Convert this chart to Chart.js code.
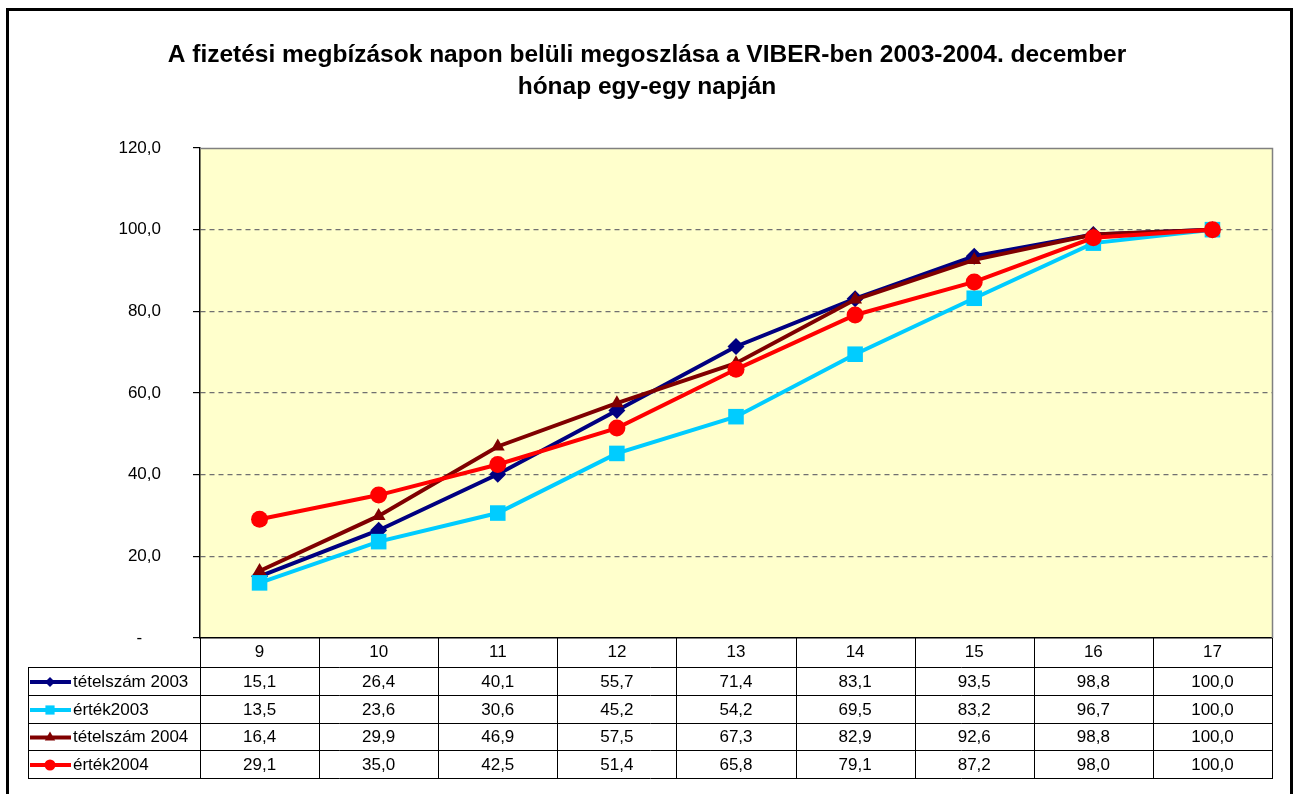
<!DOCTYPE html>
<html><head><meta charset="utf-8">
<script src="https://cdn.jsdelivr.net/npm/chart.js@4/dist/chart.umd.min.js"></script>
<style>html,body{margin:0;padding:0;background:#fff}canvas{display:block}</style>
</head><body>
<canvas id="c" width="1294" height="794"></canvas>
<script>
// ---- data ----
const hours = ['9', '10', '11', '12', '13', '14', '15', '16', '17'];
const tetelszam2003 = [15.1, 26.4, 40.1, 55.7, 71.4, 83.1, 93.5, 98.8, 100.0];
const ertek2003 = [13.5, 23.6, 30.6, 45.2, 54.2, 69.5, 83.2, 96.7, 100.0];
const tetelszam2004 = [16.4, 29.9, 46.9, 57.5, 67.3, 82.9, 92.6, 98.8, 100.0];
const ertek2004 = [29.1, 35.0, 42.5, 51.4, 65.8, 79.1, 87.2, 98.0, 100.0];
const seriesNames = ['tételszám 2003', 'érték2003', 'tételszám 2004', 'érték2004'];
const titleLines = ['A fizetési megbízások napon belüli megoszlása a VIBER-ben 2003-2004. december', 'hónap egy-egy napján'];
const yMin = 0, yMax = 120, yStep = 20;

// ---- styling ----
const FONT = "Arial, 'Liberation Sans', sans-serif";
const TXT = 17;
const fmt = v => v.toFixed(1).replace('.', ',');
const colors = ['#000080', '#00CCFF', '#800000', '#FF0000'];
const styles = ['rectRot', 'rect', 'triangle', 'circle'];
const radii = [8.5, 11, 8, 8.5];
const legendRadii = [5, 6.5, 6, 5.5];
const allSeries = [tetelszam2003, ertek2003, tetelszam2004, ertek2004];

function drawMarker(ctx, style, x, y, r, color) {
  ctx.save();
  ctx.fillStyle = color;
  ctx.beginPath();
  if (style === 'rectRot') {
    ctx.moveTo(x - r, y); ctx.lineTo(x, y - r); ctx.lineTo(x + r, y); ctx.lineTo(x, y + r); ctx.closePath();
  } else if (style === 'rect') {
    const s = r * Math.SQRT1_2;
    ctx.rect(x - s, y - s, 2 * s, 2 * s);
  } else if (style === 'triangle') {
    ctx.moveTo(x, y - r);
    ctx.lineTo(x + r * 0.866, y + r * 0.5);
    ctx.lineTo(x - r * 0.866, y + r * 0.5);
    ctx.closePath();
  } else {
    ctx.arc(x, y, r, 0, Math.PI * 2);
  }
  ctx.fill();
  ctx.restore();
}

const decor = {
  id: 'decor',
  beforeDraw(chart) {
    const {ctx, chartArea: a} = chart;
    ctx.save();
    ctx.fillStyle = '#fff';
    ctx.fillRect(0, 0, chart.width, chart.height);
    ctx.fillStyle = '#FFFFCC';
    ctx.fillRect(a.left, a.top, a.right - a.left, a.bottom - a.top);
    ctx.restore();
  },
  beforeDatasetsDraw(chart) {
    const {ctx, chartArea: a} = chart;
    ctx.save();
    ctx.strokeStyle = '#808080';
    ctx.lineWidth = 1.5;
    ctx.beginPath();
    ctx.moveTo(a.left, a.top + 0.5);
    ctx.lineTo(a.right + 0.5, a.top + 0.5);
    ctx.lineTo(a.right + 0.5, a.bottom);
    ctx.stroke();
    ctx.restore();
  },
  afterDraw(chart) {
    const {ctx, chartArea: a} = chart;
    const xs = chart.scales.x;
    const half = (xs.getPixelForValue(1) - xs.getPixelForValue(0)) / 2;
    const headerBottom = a.bottom + 29;
    const rowH = 27.8;
    const tableLeft = 28;
    const rowsY = [];
    for (let i = 0; i <= allSeries.length; i++) rowsY.push(Math.round(headerBottom + i * rowH));
    const tableBottom = rowsY[rowsY.length - 1];
    ctx.save();
    ctx.strokeStyle = '#000';
    ctx.lineWidth = 1;
    ctx.beginPath();
    for (let i = 0; i <= hours.length; i++) {
      const x = Math.round(xs.getPixelForValue(0) - half + i * 2 * half) + 0.5;
      ctx.moveTo(x, a.bottom); ctx.lineTo(x, tableBottom + 0.5);
    }
    ctx.moveTo(tableLeft + 0.5, rowsY[0]); ctx.lineTo(tableLeft + 0.5, tableBottom + 0.5);
    rowsY.forEach(y => { ctx.moveTo(tableLeft, y + 0.5); ctx.lineTo(a.right + 1, y + 0.5); });
    ctx.stroke();

    ctx.font = TXT + 'px ' + FONT;
    ctx.fillStyle = '#000';
    ctx.textBaseline = 'middle';
    allSeries.forEach((vals, r) => {
      const cy = (rowsY[r] + rowsY[r + 1]) / 2 + 1;
      ctx.save();
      ctx.strokeStyle = colors[r];
      ctx.lineWidth = 4;
      ctx.beginPath(); ctx.moveTo(30, cy); ctx.lineTo(71, cy); ctx.stroke();
      ctx.restore();
      drawMarker(ctx, styles[r], 50, cy, legendRadii[r], colors[r]);
      ctx.textAlign = 'left';
      ctx.fillStyle = '#000';
      ctx.fillText(seriesNames[r], 73, cy);
      ctx.textAlign = 'center';
      vals.forEach((v, i) => ctx.fillText(fmt(v), xs.getPixelForValue(i), cy));
    });
    ctx.lineWidth = 3;
    ctx.strokeRect(7.5, 9.5, 1284, 800);
    ctx.restore();
  }
};

const datasets = allSeries.map((vals, i) => ({
  label: seriesNames[i],
  data: vals,
  borderColor: colors[i],
  backgroundColor: colors[i],
  pointBackgroundColor: colors[i],
  pointBorderColor: colors[i],
  borderWidth: 4,
  pointStyle: styles[i],
  pointRadius: radii[i],
  pointBorderWidth: 0,
  tension: 0,
  order: 3 - i
}));

new Chart(document.getElementById('c'), {
  type: 'line',
  data: { labels: hours, datasets },
  plugins: [decor],
  options: {
    responsive: false,
    animation: false,
    devicePixelRatio: 1,
    layout: { padding: { left: 22, right: 22, top: 0, bottom: 0 } },
    plugins: {
      legend: { display: false },
      tooltip: { enabled: false },
      title: {
        display: true,
        text: titleLines,
        color: '#000',
        font: { family: FONT, size: 24.5, weight: 'bold', lineHeight: 1.306 },
        padding: { top: 39, bottom: 45 }
      }
    },
    scales: {
      x: {
        offset: true,
        grid: { display: false, drawTicks: false },
        border: { display: true, color: '#000', width: 1.5 },
        ticks: { color: '#000', font: { family: FONT, size: TXT }, padding: 4, maxRotation: 0 },
        afterFit(s) { s.height = 156; }
      },
      y: {
        min: yMin, max: yMax,
        ticks: {
          stepSize: yStep,
          color: '#000',
          font: { family: FONT, size: TXT },
          padding: 32,
          callback: v => v === 0 ? '-\u00A0\u00A0\u00A0\u00A0' : fmt(v)
        },
        grid: {
          color: c => (c.tick && (c.tick.value === yMin || c.tick.value === yMax)) ? 'rgba(0,0,0,0)' : '#707070',
          lineWidth: 1.2,
          tickColor: '#000',
          tickLength: 7,
          drawTicks: true
        },
        border: { display: true, color: '#000', width: 1.5, dash: [5, 4] },
        afterFit(s) { s.width = 178; }
      }
    }
  }
});
</script>
</body></html>
